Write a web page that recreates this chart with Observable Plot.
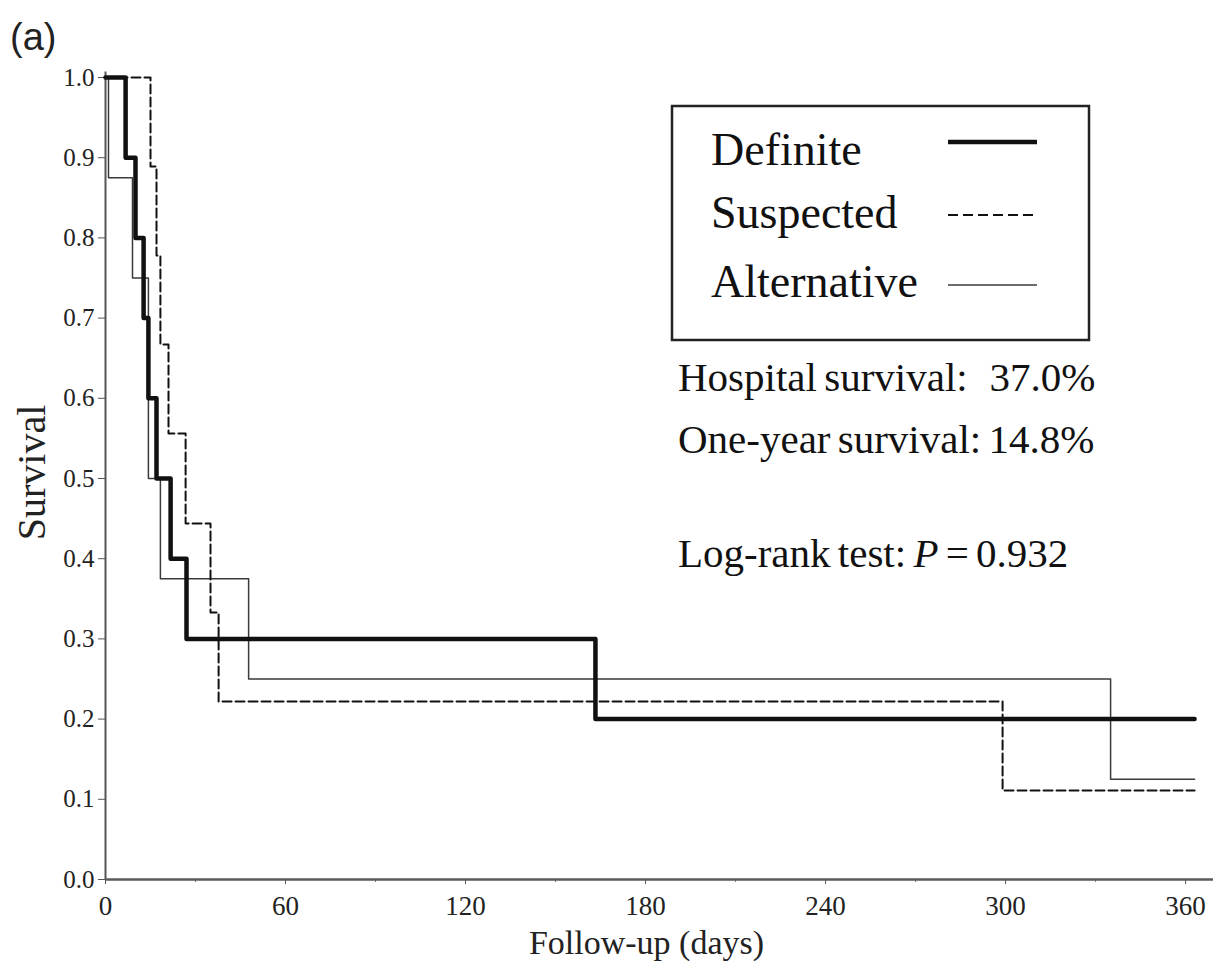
<!DOCTYPE html>
<html>
<head>
<meta charset="utf-8">
<script src="https://cdn.jsdelivr.net/npm/d3@7"></script>
<script src="https://cdn.jsdelivr.net/npm/@observablehq/plot@0.6"></script>
<style>
  html, body { margin: 0; padding: 0; background: #fff; }
  #chart { position: relative; width: 1213px; height: 973px; }
</style>
</head>
<body>
<div id="chart"></div>
<script>
// ---- data ----
const definiteDays = [0, 6.7, 10, 12.7, 14.3, 17, 21.7, 27, 163.3, 363];
const definiteSurv = [1.0, 0.9, 0.8, 0.7, 0.6, 0.5, 0.4, 0.3, 0.2, 0.2];

const suspectedDays = [0, 15, 17, 18.3, 21, 26.7, 35, 37.7, 299, 363];
const suspectedSurv = [1.0, 0.889, 0.778, 0.667, 0.556, 0.444, 0.333, 0.222, 0.111, 0.111];

const alternativeDays = [0, 1, 9, 14.3, 18.3, 47.7, 335, 363];
const alternativeSurv = [1.0, 0.875, 0.75, 0.5, 0.375, 0.25, 0.125, 0.125];

const seriesNames = ["Definite", "Suspected", "Alternative"];
const xTicks = [0, 60, 120, 180, 240, 300, 360];
const xMinorTicks = [30, 90, 150, 210, 270, 330];
const yTicks = [0, 0.1, 0.2, 0.3, 0.4, 0.5, 0.6, 0.7, 0.8, 0.9, 1.0];
const annotations = ["Hospital survival:   37.0%", "One-year survival: 14.8%"];
const logRank = {prefix: "Log-rank test: ", italic: "P", suffix: " = 0.932"};

// ---- build ----
const toRows = (days, surv) => days.map((t, i) => ({t, s: surv[i]}));
const definite = toRows(definiteDays, definiteSurv);
const suspected = toRows(suspectedDays, suspectedSurv);
const alternative = toRows(alternativeDays, alternativeSurv);

const styles = {
  Definite: {stroke: "#111", strokeWidth: 4.5, dash: null},
  Suspected: {stroke: "#111", strokeWidth: 2, dash: "9,4"},
  Alternative: {stroke: "#3a3a3a", strokeWidth: 1.5, dash: null}
};
const legendDash = "10,5";

const serif = "'Liberation Serif', 'Times New Roman', serif";

const plot = Plot.plot({
  width: 1213,
  height: 973,
  marginLeft: 105,
  marginRight: 0,
  marginTop: 77,
  marginBottom: 94,
  style: {fontFamily: serif, fontSize: "25px", color: "#333", background: "#fff"},
  x: {domain: [0, 369.3]},
  y: {domain: [0, 1]},
  marks: [
    Plot.axisY({ticks: yTicks, tickFormat: d3.format(".1f"), tickSize: 7, tickPadding: 4, label: null, stroke: "#555", fill: "#222", fontSize: 25}),
    Plot.axisX({ticks: xTicks, tickFormat: d3.format("d"), tickSize: 5, tickPadding: 11, label: null, stroke: "#555", fill: "#222", fontSize: 27}),
    Plot.axisX({ticks: xMinorTicks, tickFormat: () => "", tickSize: 3, label: null, stroke: "#777"}),
    Plot.ruleX([0], {y1: 0, y2: 1.007, stroke: "#555", strokeWidth: 2}),
    Plot.ruleY([0], {stroke: "#5a5a5a", strokeWidth: 2.5}),
    Plot.line(alternative, {x: "t", y: "s", curve: "step-after", stroke: styles.Alternative.stroke, strokeWidth: styles.Alternative.strokeWidth}),
    Plot.line(suspected, {x: "t", y: "s", curve: "step-after", stroke: styles.Suspected.stroke, strokeWidth: styles.Suspected.strokeWidth, strokeDasharray: styles.Suspected.dash}),
    Plot.line(definite, {x: "t", y: "s", curve: "step-after", stroke: styles.Definite.stroke, strokeWidth: styles.Definite.strokeWidth}),
    Plot.text(["Survival"], {frameAnchor: "left", textAnchor: "middle", dx: -73, dy: -6, rotate: -90, fontSize: 40, fill: "#222", fontFamily: serif}),
    Plot.text(["Follow-up (days)"], {frameAnchor: "bottom", dx: -13, dy: 74, fontSize: 34, fill: "#222", fontFamily: serif})
  ]
});

document.getElementById("chart").appendChild(plot);

// ---- legend, annotations, panel label ----
const svg = d3.select(plot);

svg.append("text")
  .attr("x", 10).attr("y", 50)
  .attr("text-anchor", "start")
  .attr("font-family", "'Liberation Sans', Arial, sans-serif")
  .attr("font-size", 38).attr("fill", "#222")
  .text("(a)");

const lg = svg.append("g");
lg.append("rect")
  .attr("x", 672).attr("y", 106).attr("width", 417).attr("height", 234)
  .attr("fill", "#fff").attr("stroke", "#222").attr("stroke-width", 2.5);
const legendY = [165, 228, 297];
const legendLineY = [142, 215, 285];
seriesNames.forEach((name, i) => {
  lg.append("text")
    .attr("x", 711).attr("y", legendY[i])
    .attr("text-anchor", "start")
    .attr("font-family", serif).attr("font-size", 46).attr("fill", "#111")
    .text(name);
  const st = styles[name];
  lg.append("line")
    .attr("x1", 948).attr("x2", 1037)
    .attr("y1", legendLineY[i]).attr("y2", legendLineY[i])
    .attr("stroke", st.stroke).attr("stroke-width", st.strokeWidth)
    .attr("stroke-dasharray", st.dash ? legendDash : null);
});

const annY = [391, 453];
annotations.forEach((a, i) => {
  svg.append("text")
    .attr("x", 678).attr("y", annY[i])
    .attr("text-anchor", "start")
    .attr("font-family", serif).attr("font-size", 41).attr("fill", "#111")
    .attr("word-spacing", "-3")
    .style("white-space", "pre")
    .text(a);
});
const lr = svg.append("text")
  .attr("x", 678).attr("y", 567)
  .attr("text-anchor", "start")
  .attr("font-family", serif).attr("font-size", 41).attr("fill", "#111")
  .attr("word-spacing", "-3")
  .style("white-space", "pre");
lr.append("tspan").text(logRank.prefix);
lr.append("tspan").attr("font-style", "italic").text(logRank.italic);
lr.append("tspan").text(logRank.suffix);
</script>
</body>
</html>
